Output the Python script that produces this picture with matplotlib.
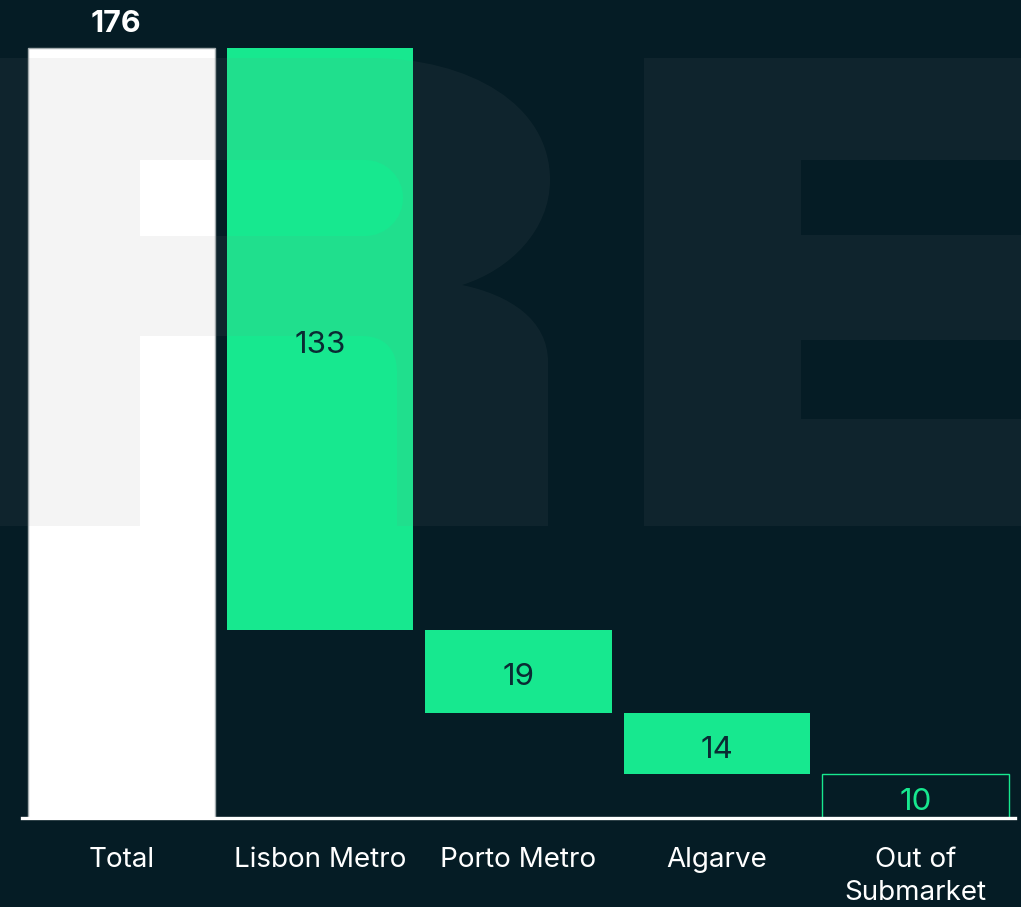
import matplotlib
matplotlib.use('Agg')
import matplotlib.pyplot as plt
from matplotlib.path import Path
from matplotlib.patches import PathPatch
from matplotlib.transforms import Affine2D

# data
categories = ['Total', 'Lisbon Metro', 'Porto Metro', 'Algarve', 'Out of\nSubmarket']
values = [176, 133, 19, 14, 10]

BG = '#051c25'
GREEN = '#17e88f'
DARK_TXT = '#0a2b33'

plt.rcParams['font.family'] = ['Inter', 'DejaVu Sans']

W, H = 1021, 907
fig = plt.figure(figsize=(W / 100, H / 100), dpi=100, facecolor=BG)
ax = fig.add_axes([22 / W, 89 / H, 993 / W, 818 / H])
ax.set_facecolor(BG)

# waterfall: total first, then each part stepping down
bottoms = [0]
run = values[0]
for v in values[1:]:
    run -= v
    bottoms.append(run)

n = len(values)
for i, (b, h) in enumerate(zip(bottoms, values)):
    if i == 0:
        ax.bar(i, h, bottom=b, width=0.94, color='white',
               edgecolor='#a3abae', linewidth=1, zorder=2)
        ax.annotate(str(h), (i, b + h), xytext=(-5, 16), textcoords='offset pixels',
                    ha='center', va='baseline', fontsize=22, fontweight='bold',
                    color='white', zorder=4)
    else:
        last = i == n - 1
        if last:
            ax.bar(i, h, bottom=b, width=0.94, color='none',
                   edgecolor=GREEN, linewidth=1, zorder=2)
        else:
            ax.bar(i, h, bottom=b, width=0.94, color=GREEN, linewidth=0, zorder=2)
        ax.annotate(str(h), (i, b + h / 2), xytext=(0, -6), textcoords='offset pixels',
                    ha='center', va='center', fontsize=22.5,
                    color=GREEN if last else DARK_TXT, zorder=4)

ax.set_xlim(-0.5, n - 0.5)
ax.set_ylim(0, 818 / 4.375)
ax.set_xticks(range(n), categories, fontsize=20, color='white', linespacing=1.35)
ax.tick_params(axis='x', length=0, pad=21)
ax.set_yticks([])
for s in ['top', 'left', 'right']:
    ax.spines[s].set_visible(False)
ax.spines['bottom'].set_color('white')
ax.spines['bottom'].set_linewidth(2.4)

# faint "RE" watermark, drawn in pixel coords (y down)
M, L, C, Z = Path.MOVETO, Path.LINETO, Path.CURVE4, Path.CLOSEPOLY
r_pts = [
    (M, (-10, 58)), (L, (370, 58)),
    (C, (470, 58)), (C, (550, 105)), (C, (550, 180)),
    (C, (550, 230)), (C, (510, 270)), (C, (462, 285)),
    (C, (510, 295)), (C, (548, 320)), (C, (548, 362)),
    (L, (548, 526)), (L, (397, 526)), (L, (397, 372)),
    (C, (397, 350)), (C, (385, 336)), (C, (362, 336)),
    (L, (140, 336)), (L, (140, 526)), (L, (-10, 526)), (Z, (-10, 526)),
    # counter of the R
    (M, (140, 160)), (L, (140, 236)), (L, (365, 236)),
    (C, (386, 236)), (C, (403, 219)), (C, (403, 198)),
    (C, (403, 177)), (C, (386, 160)), (C, (365, 160)),
    (Z, (140, 160)),
]
e_pts = [
    (M, (644, 58)), (L, (1030, 58)), (L, (1030, 160)), (L, (801, 160)),
    (L, (801, 235)), (L, (1030, 235)), (L, (1030, 340)), (L, (801, 340)),
    (L, (801, 419)), (L, (1030, 419)), (L, (1030, 526)), (L, (644, 526)),
    (Z, (644, 526)),
]
pix = Affine2D().scale(1 / W, -1 / H).translate(0, 1) + fig.transFigure
for pts in (r_pts, e_pts):
    codes = [c for c, _ in pts]
    verts = [p for _, p in pts]
    wm = PathPatch(Path(verts, codes), facecolor='#828282', edgecolor='none',
                   alpha=0.085, transform=pix, clip_on=False, zorder=2.5)
    ax.add_patch(wm)

fig.savefig('out.png', dpi=100, facecolor=BG)
